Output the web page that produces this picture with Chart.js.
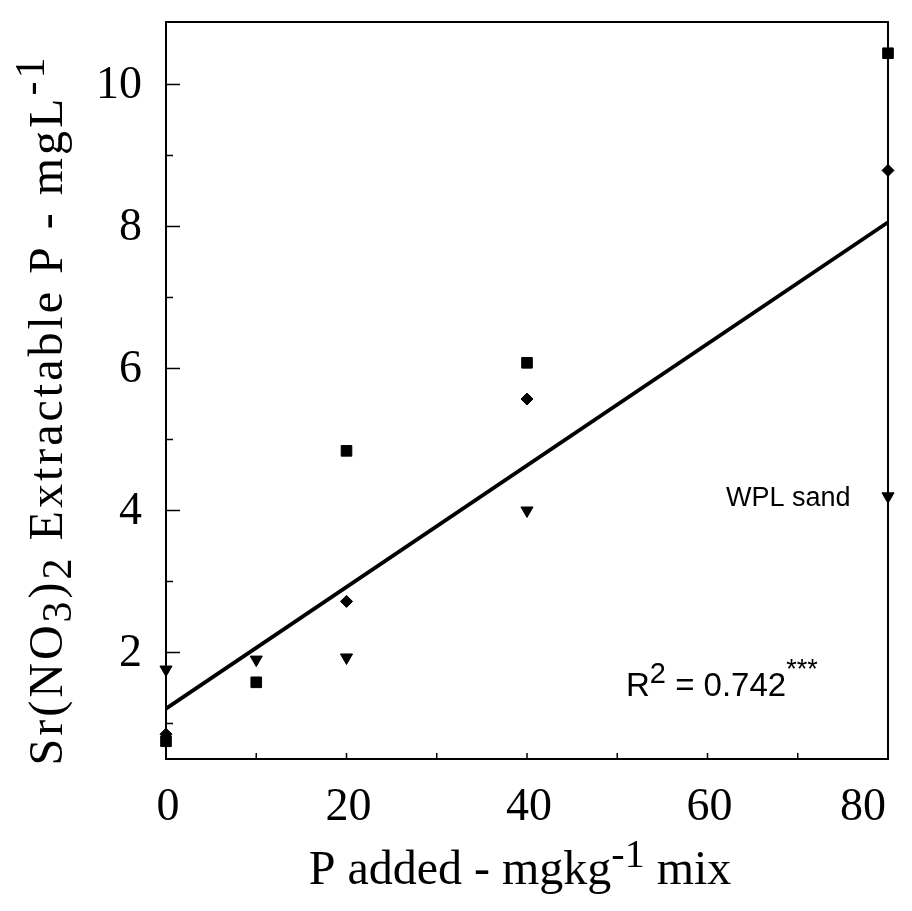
<!DOCTYPE html>
<html>
<head>
<meta charset="utf-8">
<script src="https://cdn.jsdelivr.net/npm/chart.js@4.4.1/dist/chart.umd.min.js"></script>
<style>
  html, body { margin: 0; padding: 0; background: #fff; }
  #wrap { width: 912px; height: 911px; }
</style>
</head>
<body>
<div id="wrap"><canvas id="chart" width="912" height="911"></canvas></div>
<script>
// --- DONNEES ---
const doses = [0, 10, 20, 40, 80];
const squareVals = [0.75, 1.58, 4.84, 6.08, 10.44];
const diamondVals = [0.85, null, 2.72, 5.57, 8.79];
const triangleVals = [1.76, 1.90, 1.93, 4.00, 4.20];
const fitX = [0, 80];
const fitY = [1.21, 8.06];
const xTicks = [0, 10, 20, 30, 40, 50, 60, 70, 80];
const yTicks = [1, 2, 3, 4, 5, 6, 7, 8, 9, 10];
const xLabels = [0, 20, 40, 60, 80];
const yLabels = [2, 4, 6, 8, 10];

const serif = "'Liberation Serif', 'DejaVu Serif', serif";
const sans = "'Liberation Sans', Arial, sans-serif";

function pts(xs, ys) {
  return xs.map((x, i) => ({ x: x, y: ys[i] }));
}

// texte avec indices / exposants : [texte, decalage, taille, police]
function drawRich(ctx, parts, x, y, align, spacing) {
  ctx.letterSpacing = (spacing || 0) + "px";
  let total = 0;
  parts.forEach(([t, dy, size, font]) => {
    ctx.font = size + "px " + (font || serif);
    total += ctx.measureText(t).width;
  });
  let cx = align === "center" ? x - total / 2 : x;
  parts.forEach(([t, dy, size, font]) => {
    ctx.font = size + "px " + (font || serif);
    ctx.fillText(t, cx, y + dy);
    cx += ctx.measureText(t).width;
  });
  ctx.letterSpacing = "0px";
}

const framePlugin = {
  id: "frame",
  afterDraw(chart) {
    const ctx = chart.ctx;
    const a = chart.chartArea;
    const xs = chart.scales.x;
    const ys = chart.scales.y;
    ctx.save();
    ctx.strokeStyle = "#000";
    ctx.fillStyle = "#000";
    ctx.lineWidth = 2;
    ctx.strokeRect(a.left, a.top, a.right - a.left, a.bottom - a.top);

    // graduations interieures
    ctx.lineWidth = 1.5;
    yTicks.forEach(v => {
      const py = ys.getPixelForValue(v);
      const len = v % 2 === 0 ? 14 : 7;
      ctx.beginPath();
      ctx.moveTo(a.left, py);
      ctx.lineTo(a.left + len, py);
      ctx.stroke();
    });
    xTicks.forEach(v => {
      const px = xs.getPixelForValue(v);
      ctx.beginPath();
      ctx.moveTo(px, a.bottom);
      ctx.lineTo(px, a.bottom - 6);
      ctx.stroke();
    });

    // etiquettes
    ctx.font = "46px " + serif;
    ctx.textBaseline = "middle";
    ctx.textAlign = "right";
    yLabels.forEach(v => {
      ctx.fillText(String(v), a.left - 24, ys.getPixelForValue(v) + 1);
    });
    ctx.textBaseline = "alphabetic";
    xLabels.forEach((v, i) => {
      const last = i === xLabels.length - 1;
      ctx.textAlign = last ? "right" : "center";
      ctx.fillText(String(v), xs.getPixelForValue(v) + (last ? -2 : 2), 820);
    });

    // titre axe x
    ctx.textAlign = "left";
    drawRich(ctx, [
      ["P added - mgkg", 0, 48],
      ["-1", -17, 40],
      [" mix", 0, 48]
    ], 520, 884, "center", 0);

    // titre axe y (vertical)
    ctx.save();
    ctx.translate(62, 410);
    ctx.rotate(-Math.PI / 2);
    drawRich(ctx, [
      ["Sr(NO", 0, 48],
      ["3", 9, 42],
      [")", 0, 48],
      ["2", 9, 42],
      [" Extractable P - mgL", 0, 48],
      ["-1", -18, 42]
    ], 0, 0, "center", 3);
    ctx.restore();

    // annotations
    ctx.font = "27px " + sans;
    ctx.fillText("WPL sand", 726, 506);
    drawRich(ctx, [
      ["R", 0, 33, sans],
      ["2", -13, 29, sans],
      [" = 0.742", 0, 33, sans],
      ["***", -18, 27, sans]
    ], 626, 696, "left", 0);
    ctx.restore();
  }
};

const ctxMain = document.getElementById("chart").getContext("2d");
new Chart(ctxMain, {
  type: "scatter",
  data: {
    datasets: [
      {
        type: "line",
        label: "fit",
        data: pts(fitX, fitY),
        borderColor: "#000",
        borderWidth: 3.8,
        pointRadius: 0,
        fill: false,
        order: 2
      },
      {
        label: "triangle",
        data: pts(doses, triangleVals),
        pointStyle: "triangle",
        rotation: 180,
        pointRadius: 7,
        backgroundColor: "#000",
        borderColor: "#000",
        clip: false,
        order: 1
      },
      {
        label: "diamond",
        data: pts(doses, diamondVals),
        pointStyle: "rectRot",
        pointRadius: 6,
        backgroundColor: "#000",
        borderColor: "#000",
        clip: false,
        order: 1
      },
      {
        label: "square",
        data: pts(doses, squareVals),
        pointStyle: "rect",
        pointRadius: 7.5,
        backgroundColor: "#000",
        borderColor: "#000",
        clip: false,
        order: 0
      }
    ]
  },
  options: {
    responsive: false,
    animation: false,
    layout: { padding: { top: 22, right: 24, left: 0, bottom: 0 } },
    plugins: { legend: { display: false }, tooltip: { enabled: false } },
    scales: {
      x: {
        type: "linear",
        min: 0,
        max: 80,
        grid: { display: false, drawTicks: false },
        border: { display: false },
        ticks: { display: false },
        afterFit(scale) { scale.height = 152; }
      },
      y: {
        type: "linear",
        min: 0.5,
        max: 10.88,
        grid: { display: false, drawTicks: false },
        border: { display: false },
        ticks: { display: false },
        afterFit(scale) { scale.width = 166; }
      }
    }
  },
  plugins: [framePlugin]
});
</script>
</body>
</html>
